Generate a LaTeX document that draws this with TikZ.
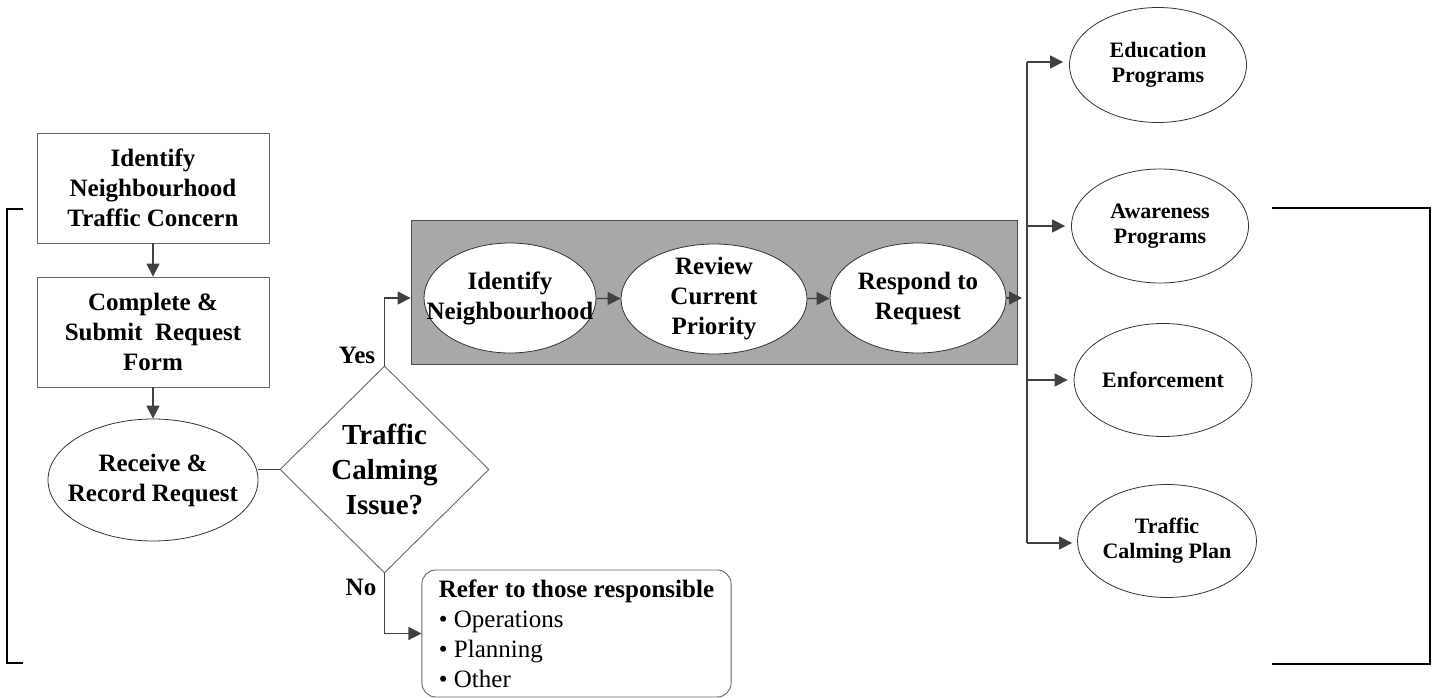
\documentclass[tikz,border=0pt]{standalone}
\usepackage{fontspec}
\setmainfont{Liberation Serif}
\usepackage{tikz}
\usetikzlibrary{arrows.meta,shapes.geometric}
\definecolor{panelgray}{RGB}{168,168,168}
\tikzset{>={Triangle[length=13pt,width=13pt]}}
\tikzset{
  stepbox/.style={draw=gray!80!black,line width=0.9pt,rectangle,minimum width=232pt,minimum height=110pt,
    align=center,inner sep=0pt,font=\fontsize{25}{30}\selectfont\bfseries},
  oval/.style={draw=black!80,line width=0.8pt,ellipse,fill=white,align=center,inner xsep=-30pt,inner ysep=-12pt,
    font=\fontsize{25}{30}\selectfont\bfseries},
  smalloval/.style={oval,font=\fontsize{22}{25}\selectfont\bfseries},
  decision/.style={draw=gray!80!black,line width=0.9pt,diamond,minimum width=209pt,minimum height=207pt,
    inner sep=0pt,align=center,font=\fontsize{29}{35}\selectfont\bfseries},
  notebox/.style={draw=gray!80!black,line width=0.9pt,rectangle,rounded corners=14pt,align=left,
    inner xsep=17pt,inner ysep=4pt,minimum width=307pt,minimum height=127pt,font=\fontsize{25}{30}\selectfont},
  conn/.style={draw=black!75,line width=1.3pt},
  flow/.style={conn,->},
  bracket/.style={draw=black,line width=2pt}
}

\begin{document}
\begin{tikzpicture}[x=1pt,y=-1pt]
\useasboundingbox (0,0) rectangle (1434,698);
% left column
\node (concern) [stepbox] at (153,188) {Identify\\Neighbourhood\\Traffic Concern};
\node (form) [stepbox] at (153,332) {Complete \&\\Submit\ \ Request\\Form};
\node (record) [oval,minimum width=210pt,minimum height=122pt] at (153,480) {Receive \&\\Record Request};
\node (issue) [decision] at (384.5,469.5) {Traffic\\Calming\\Issue?};
\draw[flow] (concern.south) -- (form.north);
\draw[flow] (form.south) -- (record.north);
\draw[conn] (record.east |- issue.west) -- (issue.west);
% grey panel
\node (panel) [draw=gray!60!black,line width=0.9pt,fill=panelgray,minimum width=606pt,minimum height=144pt,inner sep=0pt] at (714,292) {};
\node (identify) [oval,minimum width=172pt,minimum height=110pt] at (510,298) {Identify\\Neighbourhood};
\node (review) [oval,minimum width=186pt,minimum height=110pt] at (714,299) {Review\\Current\\Priority};
\node (respond) [oval,minimum width=176pt,minimum height=110pt] at (918,298) {Respond to\\Request};
\draw[flow] (identify) -- (review);
\draw[flow] (review) -- (respond);
% yes / no branches
\node (yes) [font=\fontsize{25}{30}\selectfont\bfseries] at (357,355) {Yes};
\node (no) [font=\fontsize{25}{30}\selectfont\bfseries] at (361,587) {No};
\node (refer) [notebox] at (576.5,633.5) {\textbf{Refer to those responsible}\\\textbullet\ Operations\\\textbullet\ Planning\\\textbullet\ Other};
\draw[flow] (issue.north) |- (identify.west -| panel.west);
\draw[flow] (issue.south) |- (refer.west);
% outcomes
\node (education) [smalloval,minimum width=177pt,minimum height=115pt] at (1158,65) {Education\\Programs};
\node (awareness) [smalloval,minimum width=177pt,minimum height=114pt] at (1160,226) {Awareness\\Programs};
\node (enforce) [smalloval,minimum width=178pt,minimum height=113pt] at (1163,380) {Enforcement};
\node (plan) [smalloval,minimum width=179pt,minimum height=113pt] at (1167,541) {Traffic\\Calming Plan};
\coordinate (bustop) at (1027,62);
\coordinate (busbot) at (1027,543);
\draw[conn] (bustop) -- (busbot);
\draw[flow,shorten >=5pt] (respond.east) -- (respond.east -| bustop);
\draw[flow,shorten >=6pt] (bustop) -- (bustop -| education.west);
\draw[flow,shorten >=6pt] (bustop |- awareness.west) -- (awareness.west);
\draw[flow,shorten >=6pt] (bustop |- enforce.west) -- (enforce.west);
\draw[flow,shorten >=5pt] (busbot) -- (busbot -| plan.west);
% brackets
\draw[bracket] (23,209) -- (7,209) -- (7,663) -- (23,663);
\draw[bracket] (1272,208) -- (1430,208) -- (1430,664) -- (1272,664);
\end{tikzpicture}
\end{document}
